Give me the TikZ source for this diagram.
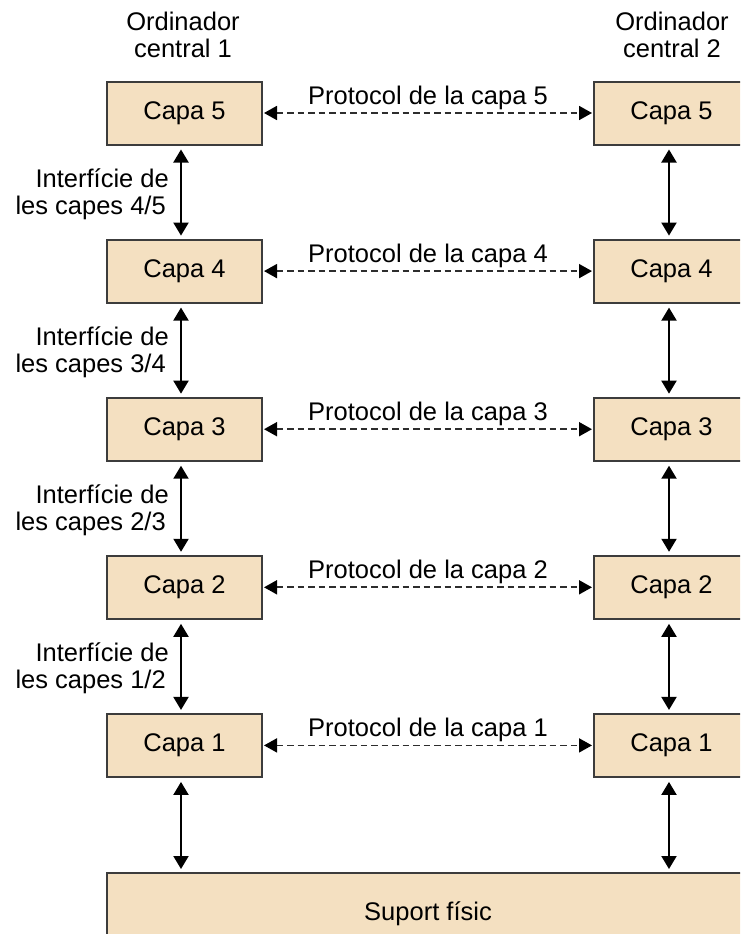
\documentclass[tikz,border=0pt]{standalone}
\usepackage{fontspec}
\setmainfont{Liberation Sans}
\usetikzlibrary{arrows.meta,calc}
\definecolor{layerfill}{RGB}{244,224,193}
\definecolor{layerline}{RGB}{60,60,60}
\definecolor{dashline}{RGB}{45,45,45}
\tikzset{
  txt/.style={font=\fontsize{25.5}{27}\selectfont},
  layer/.style={txt, draw=layerline, line width=2pt, fill=layerfill,
    minimum width=155pt, minimum height=63pt, inner sep=0pt},
  medium/.style={layer, minimum width=642pt, minimum height=82pt},
  updown/.style={line width=2pt, {Triangle[length=13pt,width=15pt]}-{Triangle[length=13pt,width=15pt]},
    shorten <=4pt, shorten >=3pt},
  peer/.style={line width=1.8pt, dashline, dash pattern=on 6.5pt off 4pt,
    {Triangle[length=13pt,width=14pt,color=black]}-{Triangle[length=13pt,width=14pt,color=black]},
    shorten <=1pt, shorten >=1pt},
  lbl/.style={txt, inner sep=0pt},
}
\begin{document}
\begin{tikzpicture}[x=1pt, y=-1pt]
  \clip (0,0) rectangle (740,934);
  \fill[white] (0,0) rectangle (740,934);

  % host headings
  \node[lbl, align=center] (h1) at (183,35) {Ordinador\\central 1};
  \node[lbl, align=center] (h2) at (672,35) {Ordinador\\central 2};

  % axes for the vertical interface arrows
  \coordinate (axL) at (181,0);
  \coordinate (axR) at (669,0);

  % layer stacks of both hosts with peer protocols
  \foreach \n/\y in {5/113, 4/271.1, 3/429.2, 2/587.3, 1/745.4} {
    \node[layer] (L\n) at (184.5,\y) {Capa \n};
    \node[layer] (R\n) at (671.5,\y) {Capa \n};
    \draw[peer] (L\n.east) -- (R\n.west);
    \node[lbl, anchor=base] (p\n) at (428,\y-9) {Protocol de la capa \n};
  }

  % physical medium
  \node[medium] (S) at (428,914) {Suport físic};

  % interfaces between adjacent layers
  \foreach \a/\b in {5/4, 4/3, 3/2, 2/1} {
    \draw[updown] (L\a.south -| axL) -- (L\b.north -| axL);
    \draw[updown] (R\a.south -| axR) -- (R\b.north -| axR);
    \node[lbl, align=right, anchor=east] (i\b) at ($(L\a.south)!0.5!(L\b.north) + (-15.5,2)$)
      {Interfície de\\les capes \b/\a\hspace*{3pt}};
  }
  \draw[updown] (L1.south -| axL) -- (S.north -| axL);
  \draw[updown] (R1.south -| axR) -- (S.north -| axR);
\end{tikzpicture}
\end{document}
